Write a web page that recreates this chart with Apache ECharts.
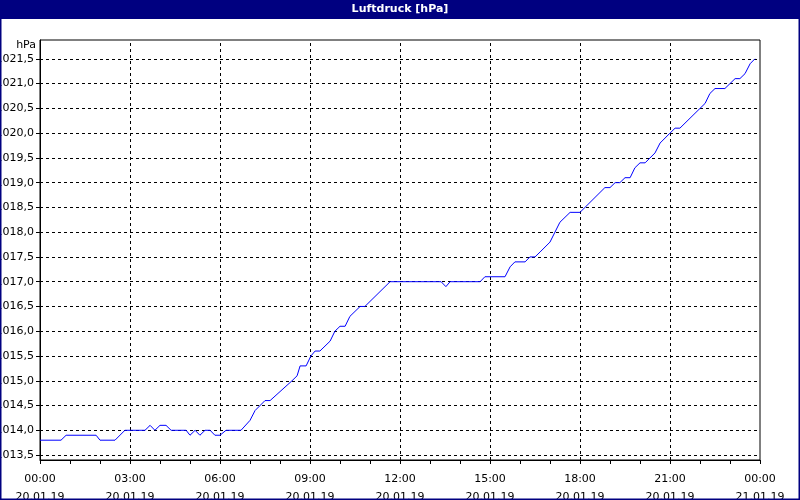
<!DOCTYPE html>
<html><head><meta charset="utf-8">
<script src="https://cdn.jsdelivr.net/npm/echarts@6/dist/echarts.min.js"></script>
<style>html,body{margin:0;padding:0;background:#fff}#c{width:800px;height:500px}</style>
</head><body><div id="c"></div>
<script>
const hours = [0,0.7,0.87,1.87,2.0,2.5,2.83,3.5,3.67,3.83,4.0,4.2,4.37,4.87,5.0,5.17,5.33,5.5,5.67,5.83,6.0,6.2,6.7,7.0,7.17,7.5,7.67,8.4,8.57,8.67,8.87,9.03,9.17,9.33,9.67,9.83,10.0,10.17,10.33,10.67,10.83,11.67,13.37,13.53,13.67,14.67,14.83,15.5,15.67,15.83,16.17,16.33,16.5,16.67,17.0,17.33,17.67,18.0,18.83,19.0,19.17,19.33,19.5,19.67,19.83,20.0,20.17,20.5,20.67,21.0,21.17,21.33,22.17,22.33,22.5,22.83,23.17,23.33,23.5,23.67,23.83];
const pressure = [1013.8,1013.8,1013.9,1013.9,1013.8,1013.8,1014.0,1014.0,1014.1,1014.0,1014.1,1014.1,1014.0,1014.0,1013.9,1014.0,1013.9,1014.0,1014.0,1013.9,1013.9,1014.0,1014.0,1014.2,1014.4,1014.6,1014.6,1015.0,1015.1,1015.3,1015.3,1015.5,1015.6,1015.6,1015.8,1016.0,1016.1,1016.1,1016.3,1016.5,1016.5,1017.0,1017.0,1016.9,1017.0,1017.0,1017.1,1017.1,1017.3,1017.4,1017.4,1017.5,1017.5,1017.6,1017.8,1018.2,1018.4,1018.4,1018.9,1018.9,1019.0,1019.0,1019.1,1019.1,1019.3,1019.4,1019.4,1019.6,1019.8,1020.0,1020.1,1020.1,1020.6,1020.8,1020.9,1020.9,1021.1,1021.1,1021.2,1021.4,1021.5];
const yTicks = [1013.5,1014,1014.5,1015,1015.5,1016,1016.5,1017,1017.5,1018,1018.5,1019,1019.5,1020,1020.5,1021,1021.5];
const xGrid = [3,6,9,12,15,18,21];
const xTimes = ['00:00','03:00','06:00','09:00','12:00','15:00','18:00','21:00','00:00'];
const xDates = ['20.01.19','20.01.19','20.01.19','20.01.19','20.01.19','20.01.19','20.01.19','20.01.19','21.01.19'];

const font = 'Tahoma, "DejaVu Sans", sans-serif';
const chart = echarts.init(document.getElementById('c'));
const dash = {color:'#000', type:[3,3], width:1};
chart.setOption({
  animation:false,
  backgroundColor:'#fff',
  graphic:[
    {type:'rect', shape:{x:0,y:0,width:800,height:19}, style:{fill:'#000080'}, z:10},
    {type:'text', x:400, y:9, style:{text:'Luftdruck [hPa]', fill:'#fff', font:'bold 11px '+font, align:'center', verticalAlign:'middle'}, z:11},
    {type:'rect', shape:{x:0.5,y:0.5,width:799,height:499}, style:{fill:'none', stroke:'#000080', lineWidth:2}, z:9},
    {type:'text', x:36, y:45, style:{text:'hPa', fill:'#000', font:'11px '+font, align:'right', verticalAlign:'middle'}}
  ],
  grid:{left:40, right:40, top:40, bottom:40, containLabel:false, outerBoundsMode:'none', show:true, borderColor:'#000', borderWidth:1, backgroundColor:'#fff'},
  xAxis:{type:'value', min:0, max:24, interval:1,
    axisLine:{lineStyle:{color:'#000'}}, splitLine:{show:false},
    axisTick:{length:4, lineStyle:{color:'#000'}},
    axisLabel:{color:'#000', fontFamily:font, fontSize:11, margin:10, lineHeight:18,
      formatter:v=> v%3===0 ? xTimes[v/3]+'\n'+xDates[v/3] : ''}},
  yAxis:{type:'value', min:1013.4, max:1021.88,
    axisLine:{show:true, lineStyle:{color:'#000'}}, splitLine:{show:false},
    axisTick:{show:true, length:4, customValues:yTicks, lineStyle:{color:'#000'}},
    axisLabel:{color:'#000', fontFamily:font, fontSize:11, margin:6, customValues:yTicks,
      formatter:v=>v.toFixed(1).replace('.',',')}},
  series:[{type:'line', data:hours.map((h,i)=>[h,pressure[i]]), showSymbol:false,
    lineStyle:{color:'#0000ff', width:1}, z:5,
    markLine:{silent:true, symbol:'none', label:{show:false}, lineStyle:dash, animation:false,
      data:[...yTicks.map(v=>({yAxis:v})), ...xGrid.map(v=>({xAxis:v}))]}}]
});
</script></body></html>
